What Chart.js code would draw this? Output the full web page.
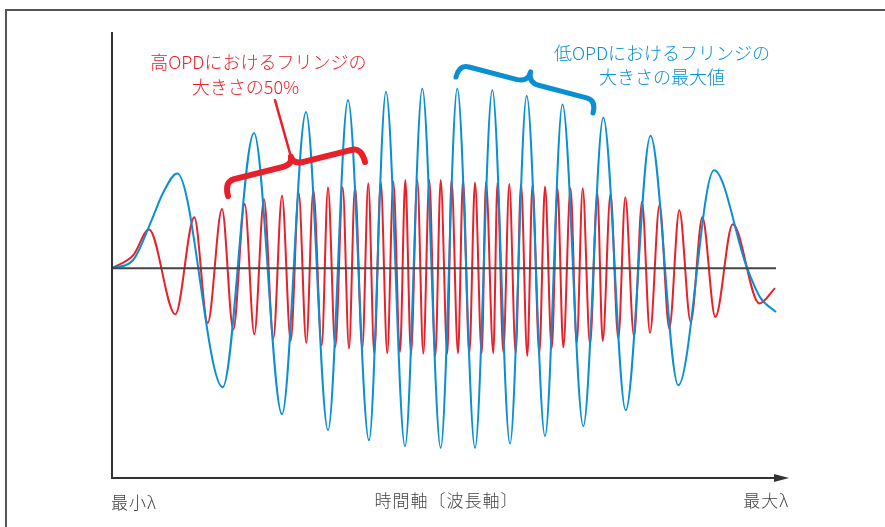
<!DOCTYPE html>
<html lang="ja">
<head>
<meta charset="utf-8">
<title>フリンジ</title>
<script src="https://cdn.jsdelivr.net/npm/chart.js@4/dist/chart.umd.min.js"></script>
<style>
  html, body { margin: 0; padding: 0; background: #fff; }
  canvas { display: block; }
</style>
</head>
<body>
<canvas id="fringeChart" width="885" height="527"></canvas>
<script>
// time axis in samples (0 = 最小λ), amplitude in % of the low-OPD maximum
const lowOpdTime = [0, 21, 39.7, 51, 65.3, 110.7, 142, 170, 194, 216, 236, 257, 274, 293, 310.3, 328.7,
  345.3, 363, 380.3, 398, 414.7, 433, 450.5, 471.3, 491.3, 513.7, 538.5, 566.3, 602, 634.7, 648, 664];
const lowOpdFringe = [0, 4.4, 26.7, 41.7, 52.6, -66.1, 75, -81.1, 86.7, -90, 93.3, -95.6, 97.9, -98.9, 99.8, -99.8,
  99.8, -99.8, 98.9, -97.4, 95.7, -93.3, 90.8, -87.8, 83.7, -78.9, 73.5, -65, 54.4, 0.7, -16.1, -24.4];

const highOpdTime = [0, 21.3, 37, 63.3, 82.3, 95.7, 110, 121.3, 132.7, 142.3, 152, 161.3, 170, 178.7, 186.7,
  194.3, 201.3, 209.7, 216, 223.3, 230.7, 237, 243, 250.3, 256.3, 262.3, 268.7, 275.3, 281.3, 288, 293.3,
  299, 305.3, 311.3, 317.3, 323.3, 328.7, 335.3, 339.5, 346, 351, 357.3, 363, 369.7, 374, 381.3, 385.5,
  391.3, 397.3, 403.7, 409, 415.3, 420.5, 427.3, 433, 439.7, 445.5, 451.3, 458.5, 464.7, 470.7, 478,
  485.3, 490.7, 498.5, 506.3, 513.3, 522, 530, 538, 547.5, 557.3, 567.3, 578.7, 590.3, 603.3, 620.7,
  647.3, 663];
const highOpdFringe = [0, 7.2, 21.5, -25.6, 28.2, -30.4, 32.8, -34.1, 35.6, -36.7, 38.3, -39.1, 40.2, -40.4, 41.8,
  -41.5, 43.3, -42.8, 44.8, -43.7, 44.8, -44.6, 45.2, -44.6, 47.1, -47.4, 48, -47.2, 48.1, -46.5, 48.9,
  -47.4, 48.9, -47.4, 48.9, -48.7, 48.9, -47.4, 48.9, -47.2, 48.9, -47.4, 47.5, -47.2, 47.8, -47.2, 47.5,
  -46.5, 46.7, -47.2, 46.7, -48.7, 46.4, -47.2, 45.3, -44.4, 44.4, -43.9, 44.4, -41.8, 44.3, -42.2,
  41.8, -40.4, 41.1, -39.1, 39.3, -37.8, 36.8, -35.9, 35, -33.5, 32.2, -29.8, 28.2, -27.1, 24.4,
  -19.6, -11.1];

const baselineTime = [0, 664];
const baselineValue = [0, 0];

const axisLabels = ["最小λ", "時間軸〔波長軸〕", "最大λ"];
const highOpdNote = ["高OPDにおけるフリンジの", "大きさの50%"];
const lowOpdNote = ["低OPDにおけるフリンジの", "大きさの最大値"];

const BLUE = "#0a8fd2";
const RED = "#e8202a";
const AXIS = "#333333";
const FONT = '"Noto Sans CJK JP", "Noto Sans", sans-serif';

const toPoints = (xs, ys) => xs.map((x, i) => ({ x, y: ys[i] }));

// curly brace between two tips, cusp pointing away from the data
function drawBrace(ctx, a, b, h, c, r, r2) {
  const len = Math.hypot(b.x - a.x, b.y - a.y);
  const t = { x: (b.x - a.x) / len, y: (b.y - a.y) / len };
  const n = { x: t.y, y: -t.x };
  const m = { x: (a.x + b.x) / 2, y: (a.y + b.y) / 2 };
  const p = (base, nh, tr) => ({ x: base.x + n.x * nh + t.x * tr, y: base.y + n.y * nh + t.y * tr });
  const c1 = p(a, h, 0), p1 = p(a, h, r), p2 = p(m, h, -r2), cm = p(m, h, 0);
  const tip = p(m, h + c, 0), p3 = p(m, h, r2), p4 = p(b, h, -r), c3 = p(b, h, 0);
  ctx.beginPath();
  ctx.moveTo(a.x, a.y);
  ctx.quadraticCurveTo(c1.x, c1.y, p1.x, p1.y);
  ctx.lineTo(p2.x, p2.y);
  ctx.quadraticCurveTo(cm.x, cm.y, tip.x, tip.y);
  ctx.quadraticCurveTo(cm.x, cm.y, p3.x, p3.y);
  ctx.lineTo(p4.x, p4.y);
  ctx.quadraticCurveTo(c3.x, c3.y, b.x, b.y);
  ctx.stroke();
  return tip;
}

const decor = {
  id: "decor",
  beforeDraw(chart) {
    const { ctx, width, height } = chart;
    ctx.save();
    ctx.fillStyle = "#fff";
    ctx.fillRect(0, 0, width, height);
    ctx.strokeStyle = "#555";
    ctx.lineWidth = 2;
    ctx.beginPath();
    ctx.moveTo(6, height);
    ctx.lineTo(6, 10);
    ctx.lineTo(width, 10);
    ctx.stroke();
    ctx.restore();
  },
  afterDraw(chart) {
    const { ctx, chartArea: area, scales } = chart;
    const px = (x, y) => ({ x: scales.x.getPixelForValue(x), y: scales.y.getPixelForValue(y) });
    ctx.save();

    // axes
    ctx.strokeStyle = AXIS;
    ctx.fillStyle = AXIS;
    ctx.lineWidth = 2;
    ctx.beginPath();
    ctx.moveTo(area.left, area.top);
    ctx.lineTo(area.left, area.bottom);
    ctx.lineTo(area.right - 12, area.bottom);
    ctx.stroke();
    ctx.beginPath();
    ctx.moveTo(area.right, area.bottom);
    ctx.lineTo(area.right - 15, area.bottom - 4);
    ctx.lineTo(area.right - 15, area.bottom + 4);
    ctx.closePath();
    ctx.fill();

    ctx.fillStyle = "#444";
    ctx.font = "300 17px " + FONT;
    ctx.letterSpacing = "1px";
    ctx.textBaseline = "middle";
    ctx.textAlign = "left";
    ctx.fillText(axisLabels[0], area.left - 1, area.bottom + 25);
    ctx.textAlign = "center";
    ctx.fillText(axisLabels[1], (area.left + area.right) / 2 - 4, area.bottom + 23);
    ctx.textAlign = "right";
    ctx.fillText(axisLabels[2], area.right, area.bottom + 23);
    ctx.letterSpacing = "0px";

    // braces
    ctx.lineCap = "round";
    ctx.lineJoin = "round";
    ctx.strokeStyle = RED;
    ctx.lineWidth = 6;
    const redTip = drawBrace(ctx, px(116, 40), px(253, 58.9), 15, 8, 10, 12);
    ctx.lineWidth = 2.5;
    const pointer = px(163, 93.3);
    ctx.beginPath();
    ctx.moveTo(redTip.x, redTip.y);
    ctx.lineTo(pointer.x, pointer.y);
    ctx.stroke();

    ctx.strokeStyle = BLUE;
    ctx.lineWidth = 5;
    drawBrace(ctx, px(344, 106.1), px(481, 86.1), 13, 11, 10, 12);

    // notes
    ctx.font = "300 18px " + FONT;
    ctx.textAlign = "center";
    ctx.fillStyle = RED;
    let p = px(146.3, 114.6);
    ctx.fillText(highOpdNote[0], p.x, p.y);
    p = px(133.5, 100.7);
    ctx.fillText(highOpdNote[1], p.x, p.y);
    ctx.fillStyle = BLUE;
    p = px(550, 119.6);
    ctx.fillText(lowOpdNote[0], p.x, p.y);
    p = px(550, 106.3);
    ctx.fillText(lowOpdNote[1], p.x, p.y);
    ctx.restore();
  }
};

new Chart(document.getElementById("fringeChart"), {
  type: "line",
  data: {
    datasets: [
      {
        label: "基準線",
        data: toPoints(baselineTime, baselineValue),
        borderColor: "#444",
        borderWidth: 2
      },
      {
        label: "低OPD",
        data: toPoints(lowOpdTime, lowOpdFringe),
        borderColor: BLUE,
        borderWidth: 2,
        cubicInterpolationMode: "monotone"
      },
      {
        label: "高OPD",
        data: toPoints(highOpdTime, highOpdFringe),
        borderColor: RED,
        borderWidth: 2,
        cubicInterpolationMode: "monotone"
      }
    ]
  },
  options: {
    responsive: false,
    animation: false,
    devicePixelRatio: 1,
    layout: { padding: { left: 112, right: 96, top: 32, bottom: 49 } },
    elements: { point: { radius: 0 } },
    plugins: { legend: { display: false }, tooltip: { enabled: false } },
    scales: {
      x: { type: "linear", min: 0, max: 677, display: false },
      y: { min: -116.5, max: 131.1, display: false }
    }
  },
  plugins: [decor]
});
</script>
</body>
</html>
